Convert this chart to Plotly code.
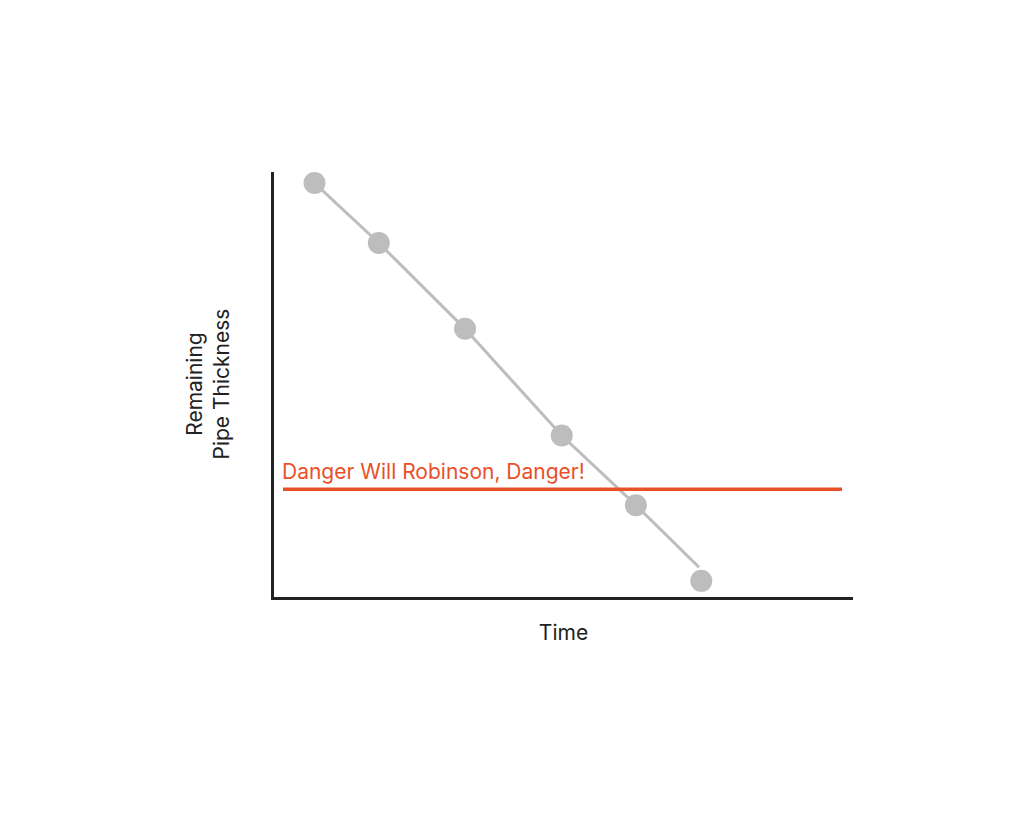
import plotly.graph_objects as go

# Data
time_pts = [0.70, 1.81, 3.30, 4.97, 6.25, 7.38]
thickness_pts = [9.74, 8.33, 6.31, 3.80, 2.16, 0.38]
trend_time = [0.70, 1.81, 3.30, 4.97, 6.25, 7.34]
trend_thickness = [9.74, 8.33, 6.31, 3.80, 2.16, 0.70]
danger_time = [0.155, 9.81]
danger_level = [2.535, 2.535]
danger_label = "Danger Will Robinson, Danger!"

grey = "#BDBDBD"
red = "#E8502A"
ink = "#222222"

fig = go.Figure()
fig.add_trace(go.Scatter(x=trend_time, y=trend_thickness, mode="lines",
                         line=dict(color=grey, width=3), hoverinfo="skip"))
fig.add_trace(go.Scatter(x=danger_time, y=danger_level, mode="lines",
                         line=dict(color=red, width=3.5), hoverinfo="skip"))
fig.add_trace(go.Scatter(x=time_pts, y=thickness_pts, mode="markers",
                         marker=dict(color=grey, size=22)))

fig.add_annotation(x=danger_time[0], y=danger_level[0], xref="x", yref="y",
                   text=danger_label, showarrow=False, xanchor="left", yanchor="bottom",
                   yshift=3, xshift=-3, font=dict(color=red, size=21, family="Inter"))

fig.add_annotation(x=-67/579, y=0.5, xref="paper", yref="paper",
                   text="Remaining<br>Pipe Thickness", textangle=-90, showarrow=False,
                   xanchor="center", yanchor="middle", align="center",
                   font=dict(color=ink, size=21, family="Inter"))

fig.update_layout(
    width=1024, height=820,
    margin=dict(l=266, r=179, t=164, b=231, pad=0),
    paper_bgcolor="white", plot_bgcolor="white",
    showlegend=False,
    font=dict(family="Inter", color=ink),
    xaxis=dict(range=[0, 10], showgrid=False, zeroline=False, showticklabels=False,
               ticks="", showline=True, linecolor=ink, linewidth=3,
               title=dict(text="Time", font=dict(size=21, color=ink, family="Inter"), standoff=27)),
    yaxis=dict(range=[0, 10], showgrid=False, zeroline=False, showticklabels=False,
               ticks="", showline=True, linecolor=ink, linewidth=3),
)

fig.write_html("out.html")
